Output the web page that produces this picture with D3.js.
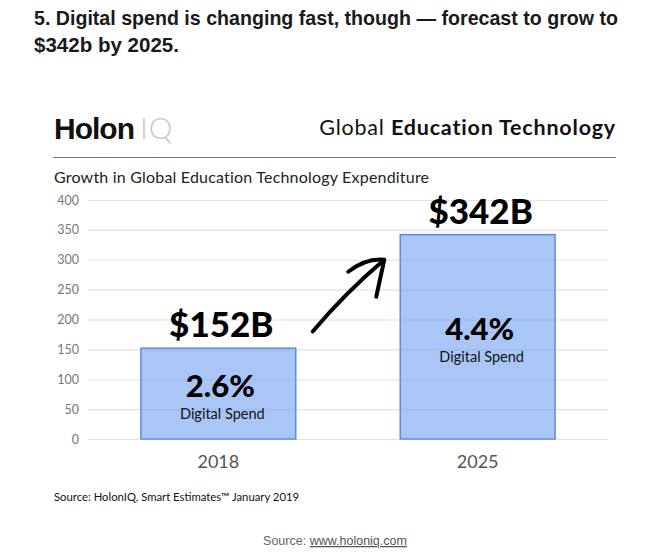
<!DOCTYPE html>
<html><head><meta charset="utf-8">
<script src="https://cdn.jsdelivr.net/npm/d3@7"></script>
<style>body{margin:0;background:#fff;}svg{display:block;}</style>
</head><body>
<script>
const years = ["2018", "2025"];
const spend = [152, 342];
const valueLabels = ["$152B", "$342B"];
const digitalShare = ["2.6%", "4.4%"];
const yTicks = [0, 50, 100, 150, 200, 250, 300, 350, 400];
const arrowValues = [180, 300];

const W = 652, H = 553;
const svg = d3.select("body").append("svg").attr("width", W).attr("height", H);

// page title
svg.append("text").attr("x", 34).attr("y", 25)
  .attr("font-family", "Liberation Sans, Arial, sans-serif").attr("font-weight", 700)
  .attr("font-size", 20.5).attr("fill", "#1a1a1a")
  .attr("textLength", 584).attr("lengthAdjust", "spacingAndGlyphs")
  .text("5. Digital spend is changing fast, though \u2014 forecast to grow to");
svg.append("text").attr("x", 34).attr("y", 52)
  .attr("font-family", "Liberation Sans, Arial, sans-serif").attr("font-weight", 700)
  .attr("font-size", 20.5).attr("fill", "#1a1a1a")
  .attr("textLength", 145).attr("lengthAdjust", "spacingAndGlyphs")
  .text("$342b by 2025.");

// header
const hdr = svg.append("text").attr("x", 54).attr("y", 139)
  .attr("font-family", "Liberation Sans, Arial, sans-serif").attr("font-size", 30);
hdr.append("tspan").attr("font-weight", 700).attr("fill", "#111").attr("letter-spacing", -1).text("Holon");
hdr.append("tspan").attr("font-weight", 300).attr("fill", "#c8c8c8").attr("font-family", "Lato, sans-serif").attr("dx", 6).attr("letter-spacing", 1).text("IQ");

const gt = svg.append("text").attr("x", 616).attr("y", 135).attr("text-anchor", "end")
  .attr("font-family", "Lato, sans-serif").attr("font-size", 21.5).attr("fill", "#111")
  .attr("letter-spacing", 0.8);
gt.append("tspan").attr("font-weight", 400).text("Global ");
gt.append("tspan").attr("font-weight", 700).text("Education Technology");

svg.append("line").attr("x1", 53).attr("x2", 616).attr("y1", 157.5).attr("y2", 157.5)
  .attr("stroke", "#777").attr("stroke-width", 1.2);

svg.append("text").attr("x", 54).attr("y", 183)
  .attr("font-family", "Lato, sans-serif").attr("font-size", 16).attr("fill", "#222")
  .attr("letter-spacing", 0.2)
  .text("Growth in Global Education Technology Expenditure");

// scales
const y = d3.scaleLinear().domain([0, 400]).range([439, 200]);
const x = d3.scaleBand().domain(years).range([88, 608]).paddingInner(0.403).paddingOuter(0.204);

// gridlines + y tick labels
const grid = svg.append("g").attr("transform", "translate(88,0)")
  .call(d3.axisLeft(y).tickValues(yTicks).tickSize(-520).tickPadding(9));
grid.select(".domain").remove();
grid.selectAll(".tick line").attr("stroke", "#e2e2e2").attr("stroke-width", 1.2);
grid.selectAll(".tick text").attr("fill", "#777").attr("font-size", 12.5)
  .attr("font-family", "Lato, sans-serif");

// bars
svg.append("g").selectAll("rect").data(spend).join("rect")
  .attr("x", (d, i) => x(years[i]))
  .attr("y", d => y(d))
  .attr("width", x.bandwidth())
  .attr("height", d => y(0) - y(d))
  .attr("fill", "rgba(112,160,240,0.6)")
  .attr("stroke", "#5a8ee0").attr("stroke-width", 1.5);

// value labels
svg.append("g").selectAll("text").data(spend).join("text")
  .attr("x", (d, i) => x(years[i]) + x.bandwidth() / 2 + 3)
  .attr("y", d => y(d) - 11)
  .attr("text-anchor", "middle")
  .attr("font-family", "Lato, sans-serif").attr("font-weight", 900)
  .attr("font-size", 35).attr("fill", "#000")
  .text((d, i) => valueLabels[i]);

// percent labels
svg.append("g").selectAll("text").data(spend).join("text")
  .attr("x", (d, i) => x(years[i]) + x.bandwidth() / 2 + 2)
  .attr("y", d => y(d / 2) + 3)
  .attr("text-anchor", "middle")
  .attr("font-family", "Lato, sans-serif").attr("font-weight", 900)
  .attr("font-size", 31).attr("fill", "#000")
  .text((d, i) => digitalShare[i]);
svg.append("g").selectAll("text").data(spend).join("text")
  .attr("x", (d, i) => x(years[i]) + x.bandwidth() / 2 + 4)
  .attr("y", d => y(d / 2) + 25)
  .attr("text-anchor", "middle")
  .attr("font-family", "Lato, sans-serif").attr("font-size", 14.5).attr("fill", "#111")
  .text("Digital Spend");

// x labels
const xa = svg.append("g").attr("transform", "translate(0,439)")
  .call(d3.axisBottom(x).tickSize(0).tickPadding(16));
xa.select(".domain").remove();
xa.selectAll("text").attr("fill", "#555").attr("font-size", 18).attr("font-family", "Lato, sans-serif");

// arrow
const ax0 = x(years[0]) + x.bandwidth() + 17, ay0 = y(arrowValues[0]);
const ax1 = x(years[1]) - 16, ay1 = y(arrowValues[1]);
svg.append("path")
  .attr("d", `M${ax0},${ay0} Q${(ax0 + ax1) / 2 - 3},${(ay0 + ay1) / 2 - 3} ${ax1},${ay1}`)
  .attr("fill", "none").attr("stroke", "#000").attr("stroke-width", 4).attr("stroke-linecap", "round");
svg.append("path")
  .attr("d", `M${ax1 - 36},${ay1 + 12} Q${ax1 - 18},${ay1 - 2} ${ax1},${ay1} L${ax1 - 8},${ay1 + 37}`)
  .attr("fill", "none").attr("stroke", "#000").attr("stroke-width", 4)
  .attr("stroke-linecap", "round").attr("stroke-linejoin", "round");

// sources
svg.append("text").attr("x", 54).attr("y", 501)
  .attr("font-family", "Lato, sans-serif").attr("font-size", 11.3).attr("fill", "#111")
  .text("Source: HolonIQ, Smart Estimates\u2122 January 2019");
const src = svg.append("text").attr("x", 335).attr("y", 545).attr("text-anchor", "middle")
  .attr("font-family", "Liberation Sans, Arial, sans-serif").attr("font-size", 12.5).attr("fill", "#666");
src.append("tspan").text("Source: ");
src.append("tspan").attr("text-decoration", "underline").attr("fill", "#555").text("www.holoniq.com");
</script>
</body></html>
